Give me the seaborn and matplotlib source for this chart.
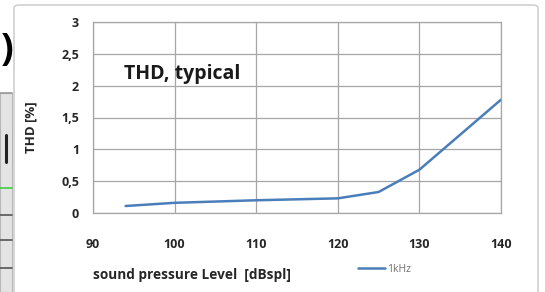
import matplotlib
matplotlib.use("Agg")
import matplotlib.pyplot as plt
import matplotlib.patches as mpatches
import seaborn as sns
import pandas as pd

# data
spl = [94, 100, 110, 120, 125, 130, 140]
thd = [0.11, 0.16, 0.20, 0.23, 0.33, 0.68, 1.78]
series_name = "1kHz"
x_ticks = [90, 100, 110, 120, 130, 140]
y_ticks = [0, 0.5, 1, 1.5, 2, 2.5, 3]
y_tick_labels = ["0", "0,5", "1", "1,5", "2", "2,5", "3"]

sns.set_theme(style="white")
plt.rcParams["font.family"] = ["Open Sans", "DejaVu Sans"]

df = pd.DataFrame({"spl": spl, "thd": thd, "series": series_name})

fig = plt.figure(figsize=(5.45, 2.92), dpi=100)
fig.patch.set_facecolor("white")

# screenshot frame / background pieces
fig.patches.append(mpatches.FancyBboxPatch((14/545, -0.02), (538-14)/545, (292-5)/292 + 0.02,
                                           boxstyle="round,pad=0,rounding_size=0.01",
                                           transform=fig.transFigure, fill=False,
                                           edgecolor="#d0d0d0", linewidth=1.2, zorder=0))
fig.patches.append(mpatches.Rectangle((0, 0), 12/545, (292-93)/292, transform=fig.transFigure,
                                      facecolor="#e4e4e4", edgecolor="#b8b8b8", linewidth=0.8, zorder=0))
for yy, col in [(93, "#9a9a9a"), (188, "#40d040"), (215, "#555555"), (240, "#555555"), (268, "#555555")]:
    fig.add_artist(plt.Line2D([0, 12/545], [1-yy/292, 1-yy/292], transform=fig.transFigure,
                              color=col, linewidth=1.2))
fig.add_artist(plt.Line2D([6/545, 6/545], [1-135/292, 1-162/292], transform=fig.transFigure,
                          color="#222222", linewidth=2.2))
fig.text(0.002, 1-50/292, ")", fontsize=27, fontweight="bold", color="black",
         ha="left", va="center")

ax = fig.add_axes([93/545, 1-213/292, (501-93)/545, (213-22)/292])
sns.lineplot(data=df, x="spl", y="thd", hue="series", palette=["#4a7ebb"],
             linewidth=1.8, ax=ax, legend=False)

ax.set_xlim(90, 140)
ax.set_ylim(0, 3)
ax.set_xticks(x_ticks)
ax.set_yticks(y_ticks)
ax.set_yticklabels(y_tick_labels)
ax.grid(True, color="#a6a6a6", linewidth=0.9)
for s in ax.spines.values():
    s.set_color("#a6a6a6")
    s.set_linewidth(0.9)
ax.tick_params(axis="both", length=0, labelsize=9, colors="#262626")
ax.tick_params(axis="y", pad=10)
ax.tick_params(axis="x", pad=18)
for lab in ax.get_xticklabels() + ax.get_yticklabels():
    lab.set_fontweight("bold")

ax.set_xlabel("sound pressure Level  [dBspl]", fontsize=9.8, fontweight="bold", color="#262626",
              loc="left")
ax.xaxis.set_label_coords(0.0, -0.29)
ax.set_ylabel("THD [%]", fontsize=9.5, fontweight="bold", color="#262626")
ax.yaxis.set_label_coords(-0.137, 0.45)

ax.text(0.075, 0.73, "THD, typical", transform=ax.transAxes, fontsize=14,
        fontweight="bold", color="#1a1a1a", ha="left", va="center")

# legend
leg_handle = plt.Line2D([], [], color="#4a7ebb", linewidth=1.8)
ax.legend([leg_handle], [series_name], loc="center", bbox_to_anchor=(0.715, -0.295),
          frameon=False, fontsize=7.5, handlelength=2.6, handletextpad=0.15,
          labelcolor="#707070")

fig.savefig("out.png", dpi=100, facecolor="white")
